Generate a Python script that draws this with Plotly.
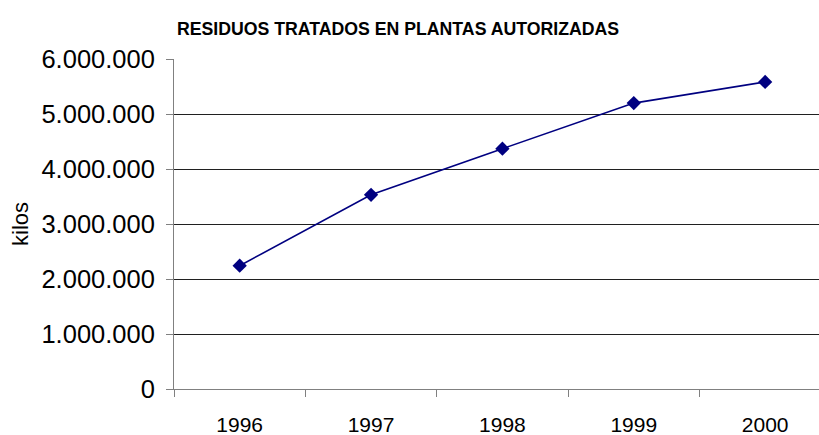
import plotly.graph_objects as go

years = ["1996", "1997", "1998", "1999", "2000"]
kilos = [2245000, 3535000, 4375000, 5205000, 5590000]
y_ticks = [0, 1000000, 2000000, 3000000, 4000000, 5000000, 6000000]
y_labels = ["0", "1.000.000", "2.000.000", "3.000.000", "4.000.000", "5.000.000", "6.000.000"]

FONT = "Arial, 'Liberation Sans', sans-serif"
W, H = 819, 435
ML, MR, MT, MB = 174, 0, 59, 46

fig = go.Figure()
fig.add_trace(go.Scatter(
    x=years, y=kilos, mode="lines+markers",
    line=dict(color="#000080", width=1.6),
    marker=dict(symbol="diamond", size=11, color="#000080"),
    showlegend=False, hoverinfo="skip",
))

fig.update_layout(
    width=W, height=H,
    margin=dict(l=ML, r=MR, t=MT, b=MB),
    paper_bgcolor="white", plot_bgcolor="white",
    font=dict(family=FONT, color="black"),
    title=dict(text="<b>RESIDUOS TRATADOS EN PLANTAS AUTORIZADAS</b>",
               x=398 / W, xanchor="center", y=1 - 29 / H, yanchor="middle",
               font=dict(size=17.7, family=FONT, color="black")),
    xaxis=dict(
        type="category", range=[-0.5, 4.41], automargin=False,
        tickson="boundaries", ticks="outside", ticklen=7, tickcolor="#808080",
        showline=True, linecolor="#808080", linewidth=1,
        showgrid=False, tickfont=dict(size=21, family=FONT),
        ticklabelstandoff=17,
    ),
    yaxis=dict(
        range=[0, 6008000], tickvals=y_ticks, ticktext=y_labels, automargin=False,
        ticks="outside", ticklen=7, tickcolor="#808080",
        showline=True, linecolor="#808080", linewidth=1,
        showgrid=True, gridcolor="#202020", gridwidth=1,
        zeroline=False, tickfont=dict(size=25.5, family=FONT),
        ticklabelstandoff=6,
    ),
    annotations=[dict(
        text="kilos", textangle=-90, showarrow=False,
        xref="paper", yref="paper",
        x=(20 - ML) / (W - ML - MR), y=0.5, xanchor="center", yanchor="middle",
        font=dict(size=22, family=FONT, color="black"),
    )],
)

fig.write_html("out.html", config={"displayModeBar": False},
               post_script="document.body.style.margin='0';")
